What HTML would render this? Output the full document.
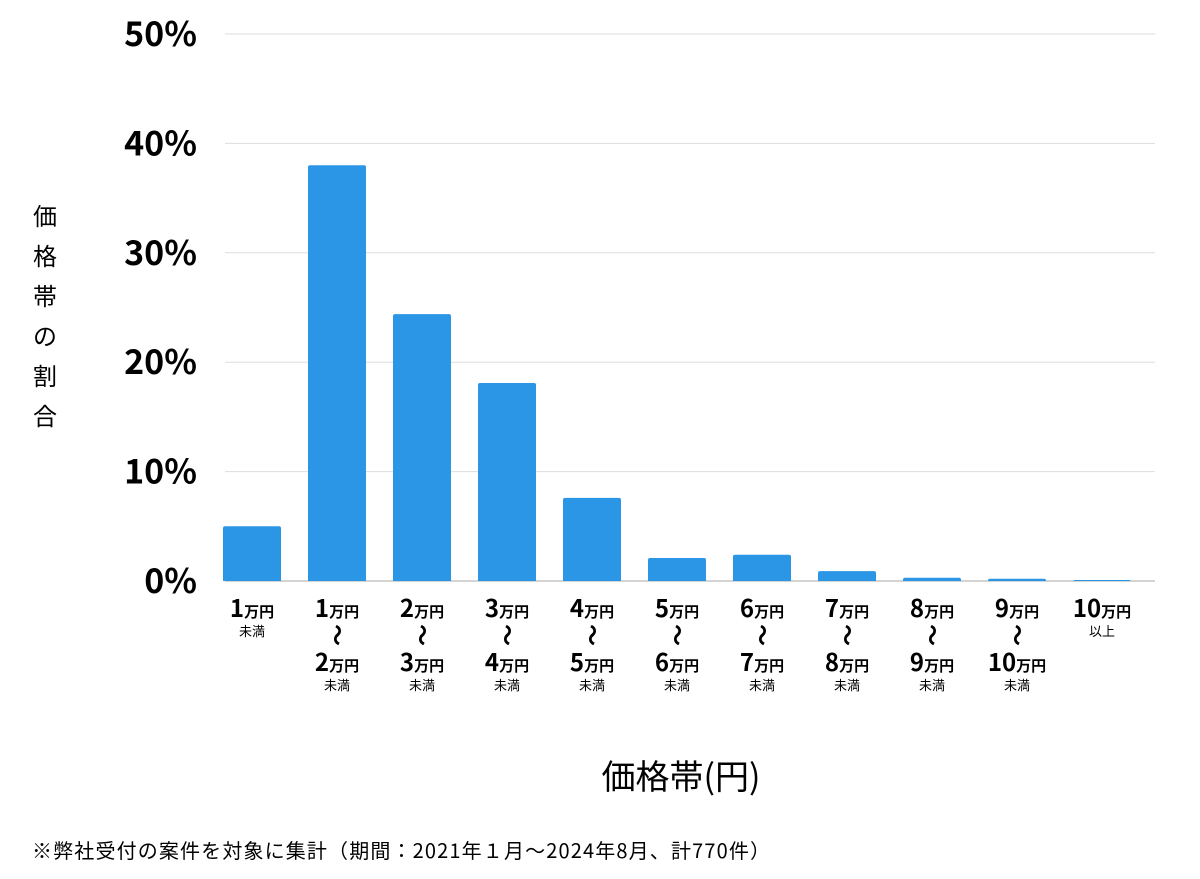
<!DOCTYPE html>
<html><head><meta charset="utf-8"><style>
body{margin:0;background:#fff;}
svg text{font-family:"Noto Sans CJK JP","Liberation Sans",sans-serif;}
</style></head><body>
<svg width="1200" height="874" xmlns="http://www.w3.org/2000/svg">
<g id="grid"></g>
<g id="yt"></g>
<g id="bars"></g>
<g id="xl"></g>
<text x="45" y="225" font-size="24" text-anchor="middle">
<tspan x="45" dy="0">価</tspan><tspan x="45" dy="40">格</tspan><tspan x="45" dy="40">帯</tspan><tspan x="45" dy="40">の</tspan><tspan x="45" dy="40">割</tspan><tspan x="45" dy="40">合</tspan></text>
<text x="681" y="789" font-size="34" text-anchor="middle">価格帯(円)</text>
<text x="32" y="858" font-size="20" textLength="738" lengthAdjust="spacing">※弊社受付の案件を対象に集計（期間：2021年１月〜2024年8月、計770件）</text>
</svg>
<script>
const lowLabels=["1","1","2","3","4","5","6","7","8","9","10"];
const highLabels=[null,"2","3","4","5","6","7","8","9","10",null];
const values=[5.0,38.0,24.4,18.1,7.6,2.1,2.4,0.9,0.3,0.2,0.05];
const yTicks=[0,10,20,30,40,50];
const NS="http://www.w3.org/2000/svg";
const y0=581,yScale=547/50,x0=252,step=85,bw=58;
const ys=v=>y0-v*yScale, xs=i=>x0+i*step;
function mk(t,a,p){const e=document.createElementNS(NS,t);for(const k in a)e.setAttribute(k,a[k]);p.appendChild(e);return e;}
const grid=document.getElementById('grid'),yt=document.getElementById('yt'),bars=document.getElementById('bars'),xl=document.getElementById('xl');
yTicks.forEach(t=>{
 const l=mk('line',{x1:225,x2:1155,y1:ys(t),y2:ys(t),stroke:t===0?'#aaa':'#ddd','stroke-width':1},grid);
 
 
 const tx=mk('text',{x:197,y:ys(t)+12,'font-size':34,'font-weight':'bold','text-anchor':'end'},yt);
 tx.textContent=t+'%';
 
 
});
values.forEach((v,i)=>{
 const h=Math.max(y0-ys(v),1);
 const r=mk('path',{d:`M${xs(i)-bw/2},${y0}V${y0-h+2}Q${xs(i)-bw/2},${y0-h} ${xs(i)-bw/2+2},${y0-h}H${xs(i)+bw/2-2}Q${xs(i)+bw/2},${y0-h} ${xs(i)+bw/2},${y0-h+2}V${y0}Z`,fill:'#2b95e6'},bars);
 
 
 const g=mk('g',{},xl);
 
 
 const cx=xs(i);
 const t1=mk('text',{x:cx,y:617,'text-anchor':'middle','font-weight':'bold'},g);
 t1.innerHTML=`<tspan font-size="24">${lowLabels[i]}</tspan><tspan font-size="15">万円</tspan>`;
 if(highLabels[i]===null){
  const s=mk('text',{x:cx,y:636,'text-anchor':'middle','font-size':13},g);
  s.textContent=i===0?'未満':'以上';
 }else{
  const w=mk('text',{x:0,y:0,'text-anchor':'middle','font-size':22,'font-weight':'bold',transform:`translate(${cx+1},635) rotate(90)`,'dominant-baseline':'central'},g);
  w.textContent='～';
  const t2=mk('text',{x:cx,y:671,'text-anchor':'middle','font-weight':'bold'},g);
  t2.innerHTML=`<tspan font-size="24">${highLabels[i]}</tspan><tspan font-size="15">万円</tspan>`;
  const s=mk('text',{x:cx,y:690,'text-anchor':'middle','font-size':13},g);
  s.textContent='未満';
 }
});
</script>
</body></html>
